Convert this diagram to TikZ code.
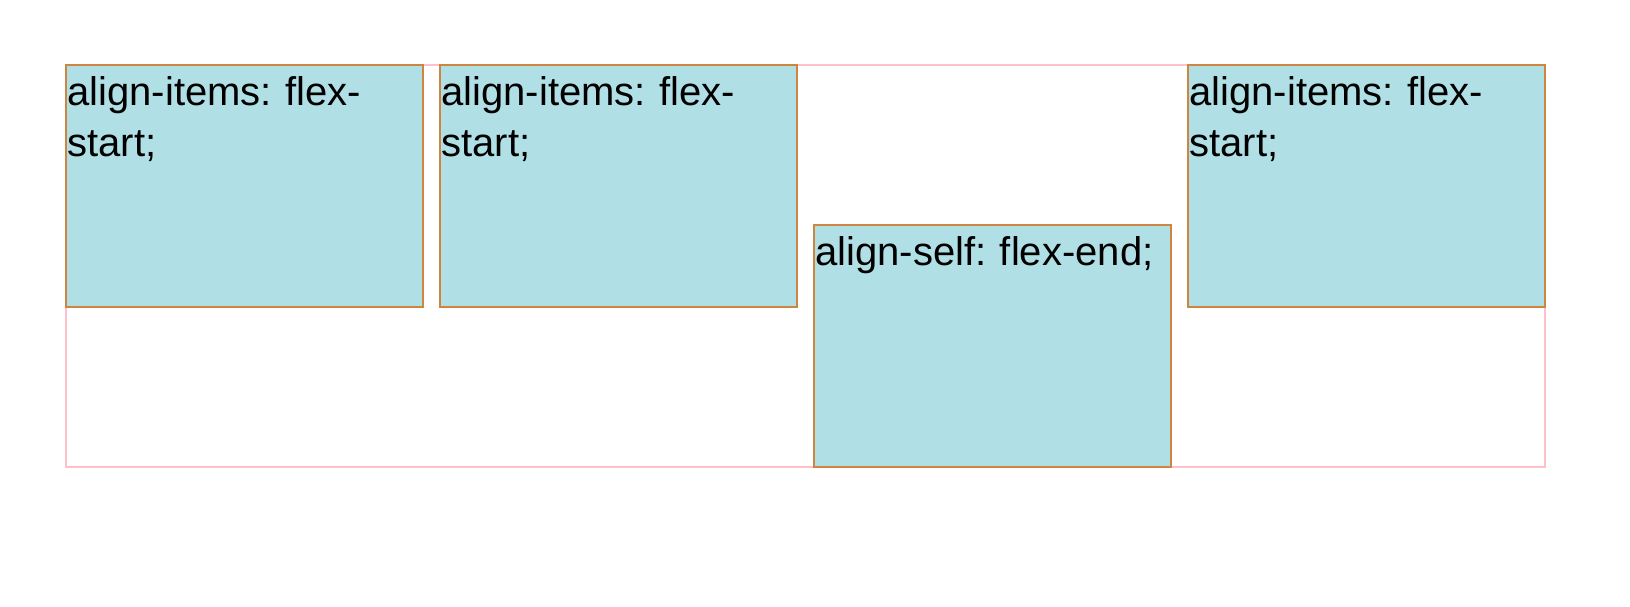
\documentclass[tikz,border=0pt]{standalone}
\usepackage{fontspec}
\setmainfont{Liberation Sans}
\usetikzlibrary{positioning}
\frenchspacing
\definecolor{itemfill}{HTML}{B0E0E6}
\definecolor{itemline}{HTML}{CD853F}
\definecolor{frameline}{HTML}{FFC0CB}
\tikzset{
  flexitem/.style={draw=itemline, fill=itemfill, line width=1.5pt, minimum width=357pt, minimum height=242pt, inner sep=0pt, outer sep=0pt},
  itemtext/.style={inner sep=0pt, outer sep=0pt, text width=355pt, align=left, font=\fontsize{40}{51}\selectfont},
}
\begin{document}
\begin{tikzpicture}[x=1pt,y=1pt]
   \useasboundingbox (0,0) rectangle (1630,606);
   % container
   \draw[frameline, line width=1.5pt] (66,541) rectangle (1545,139);

   % items
   \node[flexitem, anchor=north west] (itemA) at (66,541) {};
   \node[flexitem, right=17pt of itemA] (itemB) {};
   \node[flexitem, right=17pt of itemB, yshift=-160pt] (itemC) {};
   \node[flexitem, right=17pt of itemC, yshift=160pt] (itemD) {};

   % texts
   \node[itemtext, below right=5pt and 1.5pt of itemA.north west] (textA) {\strut align-items: flex-\\start;};
   \node[itemtext, below right=5pt and 1.5pt of itemB.north west] (textB) {\strut align-items: flex-\\start;};
   \node[itemtext, below right=5pt and 1.5pt of itemC.north west] (textC) {\strut align-self: flex-end;};
   \node[itemtext, below right=5pt and 1.5pt of itemD.north west] (textD) {\strut align-items: flex-\\start;};
\end{tikzpicture}
\end{document}
